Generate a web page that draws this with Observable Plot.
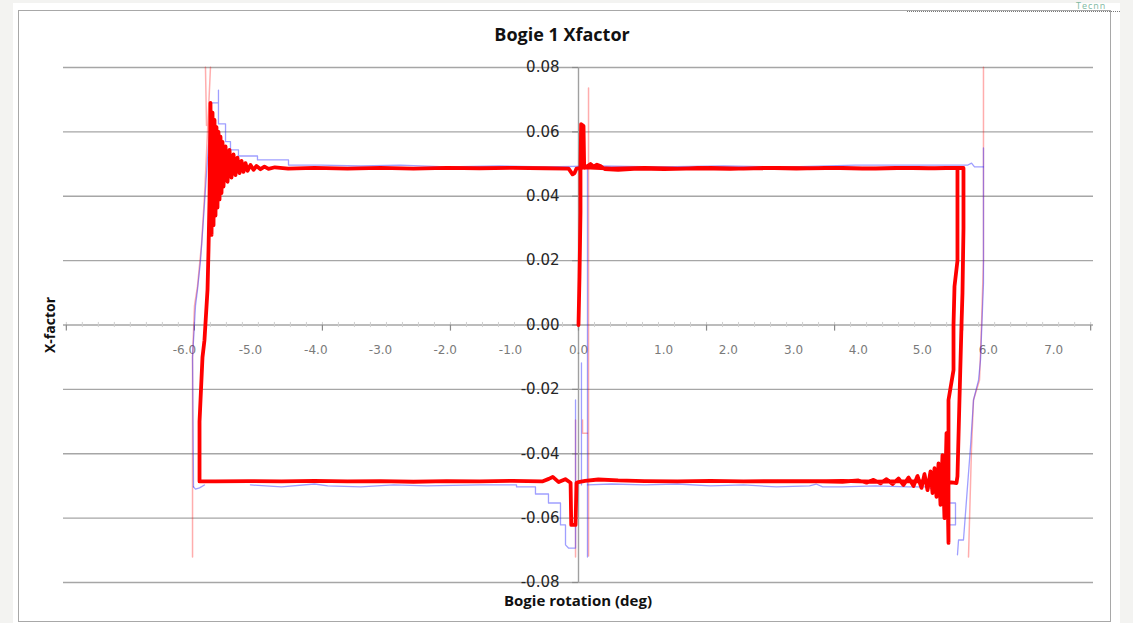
<!DOCTYPE html>
<html><head><meta charset="utf-8">
<script src="https://cdn.jsdelivr.net/npm/d3@7"></script>
<script src="https://cdn.jsdelivr.net/npm/@observablehq/plot@0.6"></script>
<style>
html,body{margin:0;padding:0;background:#f3f3f1;width:1133px;height:623px;overflow:hidden;position:relative;}
#panel{position:absolute;left:13px;top:3px;width:1107px;height:620px;background:#fff;}
#frame{position:absolute;left:18px;top:10px;width:1093px;height:612px;border:1.5px solid #a8a8a8;box-sizing:border-box;}
#dots{position:absolute;left:907px;top:11px;width:213px;border-top:1px dotted #777;}
#mark{position:absolute;left:1076px;top:1px;font:9px "Open Sans",sans-serif;line-height:1;color:#7fb9a2;letter-spacing:1px;}
#chart{position:absolute;left:0;top:0;}
.t{position:absolute;font-family:"Open Sans",sans-serif;font-weight:700;color:#111;white-space:nowrap;line-height:1;}
#title{left:562px;top:25px;font-size:18px;transform:translateX(-50%);}
#ylab{left:50px;top:325px;font-size:14px;transform:translate(-50%,-50%) rotate(-90deg);}
#xlab{left:578px;top:593px;font-size:15px;transform:translateX(-50%);}
</style>
</head><body>
<div id="panel"></div>
<div id="frame"></div>
<div id="dots"></div>
<div id="mark">Tecnn</div>
<div id="chart"></div>
<div class="t" id="title">Bogie 1 Xfactor</div>
<div class="t" id="ylab">X-factor</div>
<div class="t" id="xlab">Bogie rotation (deg)</div>
<script>
// ---- axis values ----
const xDomain = [-7.803, 7.803];
const yTicks = [-0.08, -0.06, -0.04, -0.02, 0, 0.02, 0.04, 0.06, 0.08];
const xLabelText = ["-6.0","-5.0","-4.0","-3.0","-2.0","-1.0","0.0","1.0","2.0","3.0","4.0","5.0","6.0","7.0"];
const xLabelAt   = [-5.97,-4.97,-3.98,-3.0,-2.02,-1.03,0.0,1.29,2.27,3.26,4.24,5.21,6.21,7.2];
const xMajorTicks = [-7.76,-5.82,-3.88,-1.94,0,1.94,3.88,5.82,7.76];

// ---- main (thick red) hysteresis loop ----
const redLoop = [
 [0.000,0.0000],[0.015,0.0150],[0.030,0.0350],[0.030,0.0480],[0.040,0.0624],[0.076,0.0618],[0.085,0.0500],[0.091,0.0488],
 [0.140,0.0494],[0.182,0.0500],[0.230,0.0492],[0.280,0.0498],[0.333,0.0494],[0.400,0.0484],[0.600,0.0482],[0.900,0.0486],
 [1.300,0.0484],[1.800,0.0487],[2.300,0.0485],[2.800,0.0488],[3.300,0.0486],[3.800,0.0488],[4.300,0.0486],[4.800,0.0488],
 [5.300,0.0487],[5.833,0.0488],
 [5.833,0.0300],[5.818,0.0100],[5.803,0.0000],[5.770,-0.0250],[5.742,-0.0470],[5.727,-0.0491],[5.680,-0.0490],
 [5.500,-0.0486],[5.000,-0.0485],[4.500,-0.0487],[4.000,-0.0484],[3.500,-0.0486],[3.000,-0.0485],[2.500,-0.0486],
 [2.000,-0.0484],[1.500,-0.0486],[1.000,-0.0485],[0.600,-0.0483],[0.300,-0.0480],[0.100,-0.0484],[0.000,-0.0488],
 [-0.030,-0.0490],[-0.045,-0.0621],[-0.110,-0.0621],[-0.120,-0.0490],[-0.200,-0.0479],[-0.300,-0.0488],[-0.390,-0.0472],
 [-0.450,-0.0478],[-0.550,-0.0486],[-1.000,-0.0484],[-1.500,-0.0486],[-2.000,-0.0485],[-2.500,-0.0487],[-3.000,-0.0485],
 [-3.500,-0.0486],[-4.000,-0.0484],[-4.500,-0.0486],[-5.000,-0.0485],[-5.500,-0.0486],[-5.742,-0.0486],
 [-5.742,-0.0300],[-5.727,-0.0233],[-5.697,-0.0100],[-5.667,-0.0047],[-5.621,0.0109],[-5.606,0.0233],[-5.591,0.0388],
 [-5.576,0.0690],[-5.560,0.0280],[-5.545,0.0660],[-5.530,0.0310],[-5.515,0.0637],[-5.500,0.0340],[-5.485,0.0615],
 [-5.470,0.0365],[-5.455,0.0600],[-5.439,0.0390],[-5.424,0.0585],[-5.409,0.0410],[-5.394,0.0569],[-5.379,0.0430],
 [-5.348,0.0555],[-5.318,0.0445],[-5.288,0.0544],[-5.258,0.0458],[-5.227,0.0530],[-5.197,0.0466],[-5.167,0.0520],
 [-5.136,0.0472],[-5.106,0.0510],[-5.076,0.0476],[-5.045,0.0503],[-5.015,0.0479],[-4.970,0.0497],[-4.924,0.0482],
 [-4.879,0.0494],[-4.818,0.0484],[-4.758,0.0492],[-4.697,0.0485],[-4.600,0.0490],[-4.400,0.0486],[-4.000,0.0488],
 [-3.500,0.0486],[-3.000,0.0488],[-2.500,0.0486],[-2.000,0.0488],[-1.500,0.0487],[-1.000,0.0488],[-0.500,0.0487],
 [-0.150,0.0486],[-0.090,0.0468],[-0.060,0.0472],[-0.030,0.0486],[0.100,0.0490],[0.500,0.0486],[1.000,0.0488],
 [1.500,0.0486],[2.000,0.0488],[2.500,0.0486],[3.000,0.0488],[3.500,0.0487],[4.000,0.0488],[4.500,0.0486],
 [5.000,0.0488],[5.400,0.0487],[5.742,0.0488],
 [5.742,0.0200],[5.697,0.0120],[5.682,0.0000],[5.682,-0.0140],[5.606,-0.0233],[5.606,-0.0677],
 [5.576,-0.0336],[5.545,-0.0600],[5.515,-0.0404],[5.485,-0.0559],[5.455,-0.0430],[5.424,-0.0534],[5.394,-0.0445],
 [5.364,-0.0522],[5.333,-0.0455],[5.288,-0.0513],[5.242,-0.0463],[5.197,-0.0506],[5.136,-0.0469],[5.076,-0.0500],
 [5.000,-0.0474],[4.924,-0.0497],[4.848,-0.0477],[4.758,-0.0494],[4.667,-0.0479],[4.576,-0.0492],[4.470,-0.0481],
 [4.364,-0.0490],[4.242,-0.0483],[4.000,-0.0487],[3.500,-0.0485],[3.000,-0.0486]
];

// ---- faint red traces ----
const faintRedLeft  = [[-5.576,0.0801],[-5.621,0.0600],[-5.667,0.0400],[-5.712,0.0250],[-5.773,0.0120],[-5.818,0.0060],[-5.848,-0.0100],[-5.848,-0.0721]];
const faintRedLeft2 = [[-5.652,0.0801],[-5.636,0.0620]];
const faintRedRight = [[6.136,0.0801],[6.136,0.0200],[6.106,0.0000],[6.076,-0.0171],[5.985,-0.0233],[5.955,-0.0380],[5.909,-0.0721]];
const faintRedMid1  = [[0.152,0.0736],[0.152,-0.0718]];
const faintRedMid2  = [[-0.045,-0.0295],[-0.045,-0.0721]];
const faintRedMid3  = [[0.061,-0.0295],[0.061,-0.0336],[0.136,-0.0336]];

// ---- faint blue traces ----
const blueTop = [
 [-5.833,-0.0503],[-5.848,-0.0100],[-5.803,0.0060],[-5.773,0.0109],[-5.727,0.0200],[-5.682,0.0330],[-5.636,0.0470],
 [-5.591,0.0600],[-5.561,0.0690],[-5.455,0.0690],[-5.455,0.0730],[-5.455,0.0625],[-5.348,0.0625],[-5.348,0.0570],
 [-5.273,0.0570],[-5.273,0.0544],[-5.152,0.0544],[-5.152,0.0525],[-4.864,0.0525],[-4.864,0.0513],[-4.394,0.0513],
 [-4.394,0.0497],[-3.900,0.0497],[-3.300,0.0494],[-2.700,0.0497],[-2.000,0.0491],[-1.200,0.0494],[-0.500,0.0491],
 [0.300,0.0494],[1.200,0.0491],[2.200,0.0494],[3.200,0.0491],[4.200,0.0497],[5.000,0.0497],[5.900,0.0497],
 [5.955,0.0503],[6.000,0.0491],[6.136,0.0491]
];
const blueRight = [[6.136,0.0550],[6.136,0.0130],[6.091,-0.0109],[6.061,-0.0171],[5.985,-0.0233],[5.939,-0.0379],[5.833,-0.0668],[5.758,-0.0668],[5.742,-0.0714]];
const blueBottomRight = [
 [0.136,-0.0497],[0.500,-0.0494],[1.000,-0.0497],[1.500,-0.0494],[2.000,-0.0500],[2.500,-0.0497],[3.000,-0.0503],
 [3.500,-0.0500],[3.600,-0.0494],[3.700,-0.0503],[4.000,-0.0503],[4.500,-0.0500],[5.000,-0.0503],[5.288,-0.0503],
 [5.606,-0.0534],[5.606,-0.0621],[5.712,-0.0621],[5.712,-0.0553],[5.636,-0.0553]
];
const blueBottomLeft = [[-5.833,-0.0503],[-5.803,-0.0510],[-5.742,-0.0506],[-5.667,-0.0497]];
const blueBottomMid = [
 [-4.970,-0.0497],[-4.500,-0.0503],[-4.000,-0.0494],[-3.800,-0.0500],[-3.300,-0.0503],[-2.800,-0.0497],[-2.300,-0.0500],
 [-1.500,-0.0497],[-0.939,-0.0497],[-0.939,-0.0503],[-0.652,-0.0503],[-0.652,-0.0525],[-0.455,-0.0525],[-0.455,-0.0553],
 [-0.273,-0.0553],[-0.273,-0.0621],[-0.197,-0.0621],[-0.197,-0.0683],[-0.152,-0.0693],[-0.045,-0.0693],[-0.045,-0.0233]
];
const blueMid1 = [[0.136,0.0497],[0.136,-0.0721]];
const blueMid2 = [[0.045,-0.0118],[0.045,-0.0497]];

const xMinorTicks = d3.range(-7.76, 7.8, 0.2425);

const lineOpts = (o) => Object.assign({x: d => d[0], y: d => d[1], curve: "linear"}, o);
const faint = {stroke: "#ff0000", strokeOpacity: 0.32, strokeWidth: 1.5};
const blue = {stroke: "#2b2bff", strokeOpacity: 0.45, strokeWidth: 1.3};

const chart = Plot.plot({
  width: 1133, height: 623,
  marginLeft: 63, marginRight: 40, marginTop: 67, marginBottom: 41,
  style: {background: "transparent", overflow: "visible"},
  x: {domain: xDomain, axis: null},
  y: {domain: [-0.08, 0.08], axis: null},
  marks: [
    Plot.ruleY(yTicks, {stroke: "#a6a6a6", strokeWidth: 1.4}),
    Plot.ruleX([0], {stroke: "#a0a0a0", strokeWidth: 1.4}),
    Plot.ruleY(yTicks, {x1: -0.09, x2: 0, stroke: "#8a8a8a", strokeWidth: 1.2}),
    Plot.ruleX(xMinorTicks, {y1: 0.0008, y2: -0.0008, stroke: "#d0d0d0"}),
    Plot.ruleX(xMajorTicks, {y1: 0, y2: -0.0019, stroke: "#8a8a8a", strokeWidth: 1.2}),
    Plot.text(yTicks, {x: 0, y: d => d, text: d => d.toFixed(2), textAnchor: "end", dx: -19,
      fontSize: 15, fill: "#262626", fontFamily: "DejaVu Sans"}),
    Plot.text(xLabelAt, {x: d => d, y: 0, text: (d, i) => xLabelText[i], dy: 25,
      fontSize: 12, fill: "#7a7a7a", fontFamily: "DejaVu Sans"}),
    Plot.line(faintRedLeft, lineOpts(faint)),
    Plot.line(faintRedLeft2, lineOpts(faint)),
    Plot.line(faintRedRight, lineOpts(faint)),
    Plot.line(faintRedMid1, lineOpts(faint)),
    Plot.line(faintRedMid2, lineOpts(faint)),
    Plot.line(faintRedMid3, lineOpts(faint)),
    Plot.line(blueTop, lineOpts(blue)),
    Plot.line(blueRight, lineOpts(blue)),
    Plot.line(blueBottomRight, lineOpts(blue)),
    Plot.line(blueBottomLeft, lineOpts(blue)),
    Plot.line(blueBottomMid, lineOpts(blue)),
    Plot.line(blueMid1, lineOpts(blue)),
    Plot.line(blueMid2, lineOpts(blue)),
    Plot.line(redLoop, lineOpts({stroke: "#ff0000", strokeWidth: 3.8, strokeLinejoin: "round"}))
  ]
});
document.getElementById("chart").appendChild(chart);
</script>
</body></html>
